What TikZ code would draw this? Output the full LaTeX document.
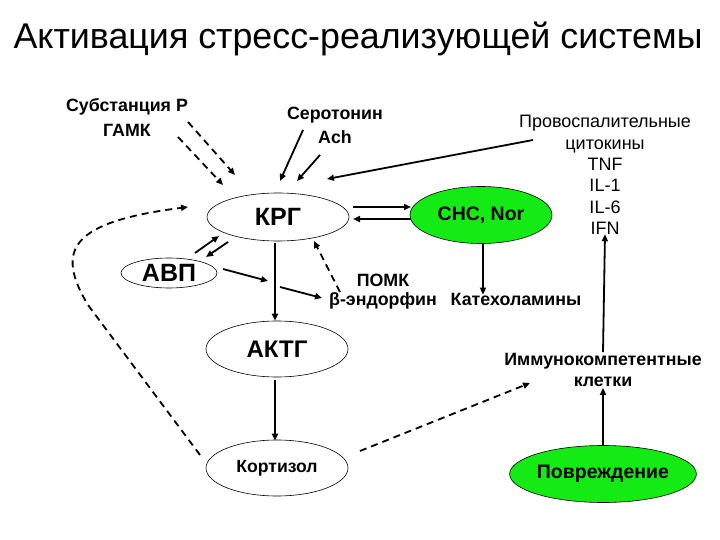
\documentclass[tikz,border=0pt]{standalone}
\usepackage{fontspec}
\setmainfont{Liberation Sans}
\usetikzlibrary{arrows.meta,shapes.geometric}
\definecolor{brightgreen}{RGB}{20,235,20}
\begin{document}
\begin{tikzpicture}[x=1pt,y=-1pt,
  oval/.style={draw,ellipse,line width=0.6pt,inner sep=0pt},
  greenoval/.style={oval,fill=brightgreen},
  lbl/.style={font=\fontsize{17.8}{20}\selectfont\bfseries,align=center,inner sep=1pt},
  arr/.style={line width=1.8pt,-{Triangle[length=7pt,width=6pt]}},
  darr/.style={arr,dash pattern=on 7pt off 5pt},
]
\useasboundingbox (0,0) rectangle (720,540);
% title
\node[anchor=base] (title) at (358,49) {\fontsize{35.8}{40}\selectfont Активация стресс-реализующей системы};
% text labels
\node[lbl] (subst) at (127,107) {Субстанция Р};
\node[lbl] (gamk) at (127,130) {ГАМК};
\node[lbl] (sero) at (335,115) {Серотонин};
\node[lbl] (ach) at (335,137) {Ach};
\node[font=\fontsize{18}{21.4}\selectfont,align=center] (cyto) at (605,175)
  {Провоспалительные\\цитокины\\TNF\\IL-1\\IL-6\\IFN};
\node[lbl] (pomk) at (383,280) {ПОМК};
\node[lbl] (endo) at (383,301) {β-эндорфин};
\node[lbl] (kateh) at (516,299) {Катехоламины};
\node[lbl,font=\fontsize{17.8}{21}\selectfont\bfseries] (immun) at (603,370) {Иммунокомпетентные\\клетки};
% ovals
\node[oval,minimum width=142pt,minimum height=48pt,font=\fontsize{25}{28}\selectfont\bfseries] (krg) at (278,217) {КРГ};
\node[oval,minimum width=96pt,minimum height=30pt,font=\fontsize{25}{28}\selectfont\bfseries] (avp) at (169,273) {АВП};
\node[greenoval,minimum width=142pt,minimum height=57pt,font=\fontsize{19.5}{22}\selectfont\bfseries] (cns) at (481,215) {СНС, Nor};
\node[oval,minimum width=142pt,minimum height=56pt,font=\fontsize{24}{28}\selectfont\bfseries] (aktg) at (277,349) {АКТГ};
\node[oval,minimum width=142pt,minimum height=56pt,font=\fontsize{17.6}{20}\selectfont\bfseries] (kort) at (277,468) {Кортизол};
\node[greenoval,minimum width=170pt,minimum height=57pt,font=\fontsize{19.5}{22}\selectfont\bfseries] (povr) at (603,474) {Повреждение};
% helper coordinates
\coordinate (s1a) at (188,122); \coordinate (s1b) at (235,175);
\coordinate (s2a) at (178,137); \coordinate (s2b) at (223,185);
\coordinate (r1a) at (303,130); \coordinate (r1b) at (280,181);
\coordinate (r2a) at (320,155); \coordinate (r2b) at (297,181);
\coordinate (pa) at (533,140); \coordinate (pb) at (327,179);
\coordinate (k1a) at (353,207); \coordinate (k1b) at (411,207);
\coordinate (k2a) at (411,219); \coordinate (k2b) at (353,219);
\coordinate (a1a) at (195,253); \coordinate (a1b) at (219,236);
\coordinate (a2a) at (228,242); \coordinate (a2b) at (206,257);
\coordinate (av1a) at (223,269); \coordinate (av1b) at (268,281);
\coordinate (av2a) at (280,287); \coordinate (av2b) at (322,298);
\coordinate (ea) at (340,292); \coordinate (eb) at (314,241);
\coordinate (ka) at (200,455); \coordinate (kb) at (188,207);
\coordinate (ia) at (360,451); \coordinate (ib) at (530,383);
% connectors
\draw[darr] (s1a) -- (s1b);
\draw[darr] (s2a) -- (s2b);
\draw[arr] (r1a) -- (r1b);
\draw[arr] (r2a) -- (r2b);
\draw[arr] (pa) -- (pb);
\draw[arr] (k1a) -- (k1b);
\draw[arr] (k2a) -- (k2b);
\draw[arr] (a1a) -- (a1b);
\draw[arr] (a2a) -- (a2b);
\draw[arr] (krg.south) ++(-3,2) coordinate (kd) -- (aktg.north -| kd);
\draw[arr] (av1a) -- (av1b);
\draw[arr] (av2a) -- (av2b);
\draw[darr] (ea) -- (eb);
\draw[arr] (cns.south) ++(2,0) coordinate (cd) -- ([yshift=-3pt]kateh.north -| cd);
\draw[arr] (aktg.south) ++(-2,3) coordinate (ad) -- ([yshift=-1pt]kort.north -| ad);
\draw[darr] (ka) -- (88,305) .. controls (55,250) and (70,222) .. (kb);
\draw[darr] (ia) -- (ib);
\draw[arr] (povr.north) -- (immun.south);
\draw[arr] (immun.north) -- ([yshift=4pt]cyto.south);
\end{tikzpicture}
\end{document}
